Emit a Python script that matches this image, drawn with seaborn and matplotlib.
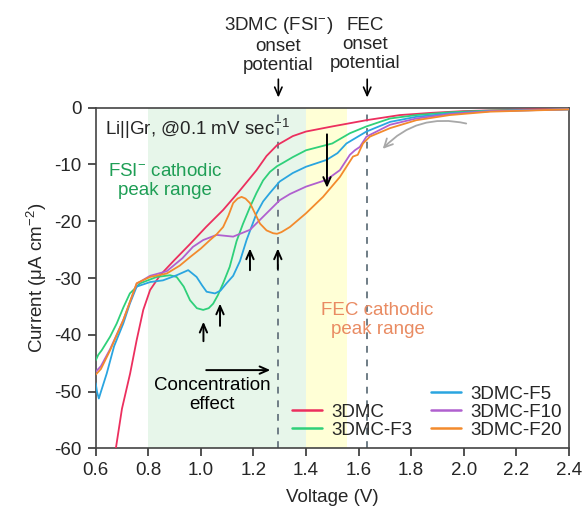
import numpy as np
import pandas as pd
import matplotlib
matplotlib.use("Agg")
import matplotlib.pyplot as plt
import seaborn as sns
from matplotlib.lines import Line2D

# ---------------- data ----------------
series_names = ["3DMC", "3DMC-F3", "3DMC-F5", "3DMC-F10", "3DMC-F20"]
series_colors = ["#ec2f5e", "#2fd07a", "#2aa5e0", "#b060cf", "#f38a2c"]

x_3dmc = [0.67, 0.70, 0.731, 0.756, 0.781, 0.807, 0.845, 0.90, 0.959, 1.02, 1.085, 1.15,
          1.212, 1.25, 1.29, 1.35, 1.40, 1.50, 1.63, 1.757, 1.88, 2.0, 2.2, 2.4]
y_3dmc = [-62, -53, -46.8, -40.9, -35.6, -32.1, -29.5, -26.8, -24.0, -21.0, -18.0, -14.5,
          -11.0, -8.5, -6.6, -5.0, -4.2, -3.3, -2.2, -1.3, -0.9, -0.6, -0.35, -0.2]

x_f3 = [0.6, 0.61, 0.623, 0.655, 0.68, 0.705, 0.73, 0.77, 0.832, 0.883, 0.908, 0.935, 0.959,
        0.985, 1.009, 1.03, 1.047, 1.065, 1.085, 1.11, 1.136, 1.16, 1.187, 1.212, 1.237,
        1.263, 1.29, 1.313, 1.35, 1.40, 1.45, 1.50, 1.567, 1.63, 1.72, 1.82, 1.95, 2.1, 2.4]
y_f3 = [-44.5, -43.5, -42.7, -40.3, -38.0, -35.2, -32.7, -30.9, -29.8, -29.5, -29.8, -31.5, -33.9,
        -35.3, -35.6, -35.3, -34.5, -33.0, -30.9, -28.0, -23.5, -20.5, -17.5, -15.0, -12.8,
        -11.3, -10.3, -9.7, -8.7, -7.5, -6.9, -6.3, -4.5, -3.3, -1.9, -1.3, -0.8, -0.5, -0.3]

x_f5 = [0.6, 0.605, 0.612, 0.62, 0.642, 0.67, 0.705, 0.73, 0.756, 0.807, 0.856, 0.908, 0.952,
        0.984, 1.005, 1.022, 1.054, 1.075, 1.098, 1.123, 1.149, 1.174, 1.212, 1.237, 1.263,
        1.30, 1.35, 1.40, 1.478, 1.52, 1.554, 1.63, 1.72, 1.82, 1.95, 2.1, 2.4]
y_f5 = [-48.5, -50.0, -51.2, -50.0, -46.8, -42.0, -38.0, -34.5, -31.5, -30.7, -30.4, -29.5, -28.6,
        -29.8, -31.3, -32.4, -32.7, -32.2, -30.9, -29.6, -27.0, -23.3, -18.6, -16.5, -15.0,
        -13.0, -11.5, -10.4, -9.2, -8.0, -6.3, -4.2, -2.5, -1.6, -1.0, -0.6, -0.3]

x_f10 = [0.6, 0.62, 0.655, 0.705, 0.756, 0.807, 0.87, 0.93, 0.97, 1.009, 1.06, 1.123, 1.187,
         1.263, 1.30, 1.339, 1.40, 1.478, 1.529, 1.567, 1.586, 1.605, 1.63, 1.72, 1.82, 1.95,
         2.1, 2.4]
y_f10 = [-46.5, -45.5, -42.5, -37.4, -31.0, -29.6, -28.8, -26.5, -24.5, -23.3, -22.4, -22.7, -21.5,
         -18.0, -16.3, -15.2, -13.9, -12.7, -11.0, -8.3, -7.5, -6.9, -5.1, -3.0, -1.9, -1.1,
         -0.6, -0.3]

x_f20 = [0.6, 0.62, 0.655, 0.705, 0.756, 0.807, 0.87, 0.92, 0.959, 1.0, 1.035, 1.06, 1.085,
         1.105, 1.123, 1.14, 1.155, 1.17, 1.187, 1.205, 1.225, 1.25, 1.275, 1.29, 1.307, 1.339,
         1.40, 1.465, 1.529, 1.579, 1.597, 1.617, 1.643, 1.72, 1.82, 1.947, 2.1, 2.4]
y_f20 = [-47.0, -46.0, -42.7, -37.4, -30.9, -29.8, -29.2, -27.8, -26.3, -24.8, -23.3, -22.3, -21.0,
         -19.0, -16.8, -16.0, -15.7, -16.0, -16.8, -18.5, -20.4, -21.6, -22.1, -22.2, -21.9, -21.0,
         -18.6, -15.7, -12.2, -8.6, -8.3, -6.3, -5.1, -3.6, -2.2, -1.3, -0.7, -0.3]

x_ticks = [0.6, 0.8, 1.0, 1.2, 1.4, 1.6, 1.8, 2.0, 2.2, 2.4]
y_ticks = [0, -10, -20, -30, -40, -50, -60]

fsi_range = (0.8, 1.4)
fec_range = (1.4, 1.555)
fsi_onset = 1.295
fec_onset = 1.633

# --------------- style ----------------
sns.set_theme(style="ticks")
plt.rcParams["font.family"] = ["Liberation Sans", "DejaVu Sans"]
plt.rcParams["mathtext.fontset"] = "custom"
plt.rcParams["mathtext.rm"] = "Liberation Sans"
plt.rcParams["mathtext.it"] = "Liberation Sans:italic"
plt.rcParams["mathtext.bf"] = "Liberation Sans:bold"
plt.rcParams["axes.unicode_minus"] = False
FS = 13.5

fig = plt.figure(figsize=(5.87, 5.17), dpi=100)
ax = fig.add_axes([0.163, 0.1325, 0.806, 0.6592])

ax.axvspan(*fsi_range, color="#e7f6ea", zorder=0, lw=0)
ax.axvspan(*fec_range, color="#ffffd6", zorder=0, lw=0)
for xo in (fsi_onset, fec_onset):
    ax.axvline(xo, color="#6f7d86", lw=1.4, ls=(0, (3.5, 3.5)), zorder=1)

xs = [x_3dmc, x_f3, x_f5, x_f10, x_f20]
ys = [y_3dmc, y_f3, y_f5, y_f10, y_f20]
frames = []
for name, xv, yv in zip(series_names, xs, ys):
    frames.append(pd.DataFrame({"Voltage": xv, "Current": yv, "Sample": name}))
df = pd.concat(frames, ignore_index=True)

for name, col in zip(series_names, series_colors):
    sub = df[df["Sample"] == name]
    sns.lineplot(data=sub, x="Voltage", y="Current", color=col, lw=1.3,
                 sort=False, estimator=None, ax=ax, legend=False, zorder=3)

ax.set_xlim(0.6, 2.4)
ax.set_ylim(-60, 0)
ax.set_xticks(x_ticks)
ax.set_xticklabels([f"{v:.1f}" for v in x_ticks])
ax.set_yticks(y_ticks)
ax.set_yticklabels([f"{v:d}" for v in y_ticks])
ax.tick_params(axis="both", direction="out", length=6, width=1.2, labelsize=FS,
               color="#333333", pad=4)
for sp in ax.spines.values():
    sp.set_color("#444444")
    sp.set_linewidth(1.2)
ax.set_xlabel("Voltage (V)", fontsize=FS, labelpad=7)
ax.set_ylabel("Current (μA cm$^{-2}$)", fontsize=FS, labelpad=4)

# --------------- annotations ----------------
ax.text(0.635, -3.8, "Li||Gr, @0.1 mV sec$^{-1}$", fontsize=FS, ha="left", va="center", zorder=5)
ax.text(0.862, -12.9, "FSI$^{-}$ cathodic\npeak range", fontsize=FS, color="#1e9e55",
        ha="center", va="center", multialignment="center", linespacing=1.15, zorder=5)
ax.text(1.672, -37.4, "FEC cathodic\npeak range", fontsize=FS, color="#e98b62",
        ha="center", va="center", multialignment="center", linespacing=1.15, zorder=5)
ax.text(1.042, -50.6, "Concentration\neffect", fontsize=FS, color="black",
        ha="center", va="center", multialignment="center", linespacing=1.15, zorder=5)

arrow_kw = dict(arrowstyle="->,head_length=0.5,head_width=0.22", color="black", lw=1.4)
ax.annotate("", xy=(1.275, -46.2), xytext=(1.01, -46.2), arrowprops=arrow_kw, zorder=5)
for (xa, y0, y1) in [(1.01, -41.6, -37.2), (1.073, -38.9, -34.0),
                     (1.187, -29.1, -24.3), (1.293, -28.9, -24.3)]:
    ax.annotate("", xy=(xa, y1), xytext=(xa, y0), arrowprops=arrow_kw, zorder=5)
ax.annotate("", xy=(1.48, -14.6), xytext=(1.48, -4.2), arrowprops=arrow_kw, zorder=5)
ax.annotate("", xy=(1.685, -7.6), xytext=(2.02, -2.9),
            arrowprops=dict(arrowstyle="->,head_length=0.5,head_width=0.25", color="#a8a8a8",
                            lw=1.3, connectionstyle="arc3,rad=0.3"), zorder=5)

# top onset labels
ax.text(fsi_onset, 11.2, "3DMC (FSI$^{-}$)\nonset\npotential", fontsize=FS, ha="center",
        va="center", multialignment="center", linespacing=1.15, clip_on=False)
ax.text(fec_onset - 0.008, 11.2, "FEC\nonset\npotential", fontsize=FS, ha="center",
        va="center", multialignment="center", linespacing=1.15, clip_on=False)
top_kw = dict(arrowstyle="->,head_length=0.5,head_width=0.22", color="black", lw=1.2)
for xo in (fsi_onset, fec_onset):
    ax.annotate("", xy=(xo, 1.3), xytext=(xo, 5.5), arrowprops=top_kw, annotation_clip=False)

# legend
blank = Line2D([], [], color="none")
handles = [blank] + [Line2D([], [], color=c, lw=1.8) for c in series_colors]
labels = [""] + series_names
ax.legend(handles, labels, ncol=2, frameon=False, fontsize=FS, loc="lower right",
          bbox_to_anchor=(1.01, -0.005), handlelength=1.6, handletextpad=0.5,
          columnspacing=1.0, labelspacing=0.05, borderaxespad=0.2)

fig.savefig("out.png", dpi=100)
